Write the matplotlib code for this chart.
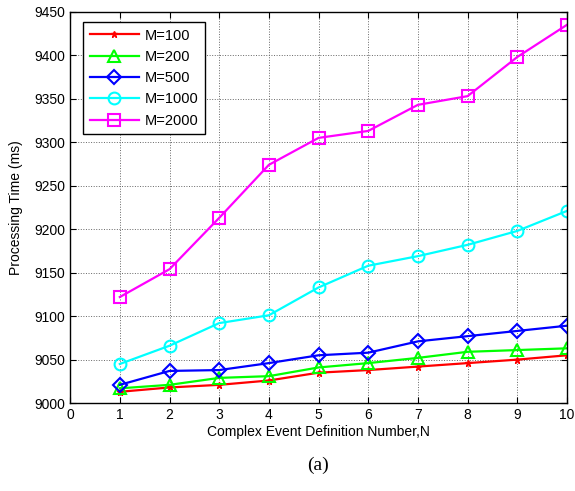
import numpy as np
import matplotlib.pyplot as plt

plt.rcParams['font.family'] = ['Liberation Sans', 'DejaVu Sans']

N = np.arange(1, 11)
m100 = [9013, 9018, 9021, 9026, 9035, 9038, 9042, 9046, 9050, 9055]
m200 = [9017, 9021, 9029, 9031, 9041, 9046, 9052, 9059, 9061, 9063]
m500 = [9021, 9037, 9038, 9046, 9055, 9058, 9071, 9077, 9083, 9089]
m1000 = [9045, 9066, 9092, 9101, 9133, 9158, 9169, 9182, 9198, 9221]
m2000 = [9122, 9154, 9213, 9274, 9305, 9313, 9343, 9353, 9398, 9435]
labels = ['M=100', 'M=200', 'M=500', 'M=1000', 'M=2000']

fig = plt.figure(figsize=(5.75, 4.91), dpi=100)
ax = fig.add_axes([0.122, 0.179, 0.864, 0.797])

lw = 1.6
ax.plot(N, m100, color='#ff0000', marker='*', ms=5, lw=lw, label=labels[0])
ax.plot(N, m200, color='#00ff00', marker='^', ms=8.5, mfc='none', mew=1.5, lw=lw, label=labels[1])
ax.plot(N, m500, color='#0000ff', marker='D', ms=7.2, mfc='none', mew=1.5, lw=lw, label=labels[2])
ax.plot(N, m1000, color='#00ffff', marker='o', ms=8.5, mfc='none', mew=1.5, lw=lw, label=labels[3])
ax.plot(N, m2000, color='#ff00ff', marker='s', ms=8, mfc='none', mew=1.5, lw=lw, label=labels[4])

ax.set_xlim(0, 10)
ax.set_ylim(9000, 9450)
ax.set_xticks(range(0, 11))
ax.set_yticks(range(9000, 9451, 50))
ax.grid(True, color='#666666', ls=':', lw=0.7)
ax.tick_params(direction='in', top=True, right=True, labelsize=10, length=4)
for s in ax.spines.values():
    s.set_linewidth(1.0)

ax.set_xlabel('Complex Event Definition Number,N', fontsize=10, labelpad=2)
ax.set_ylabel('Processing Time (ms)', fontsize=10, labelpad=8)

leg = ax.legend(loc='upper left', bbox_to_anchor=(0.026, 0.974), borderaxespad=0,
                fontsize=10.5, fancybox=False, edgecolor='black', framealpha=1,
                handlelength=3.4, handletextpad=0.35, labelspacing=0.5,
                borderpad=0.45)
leg.get_frame().set_linewidth(1.0)

fig.text(0.553, 0.053, '(a)', ha='center', va='center', fontsize=14,
         family='Liberation Serif')

fig.savefig('out.png', dpi=100)
